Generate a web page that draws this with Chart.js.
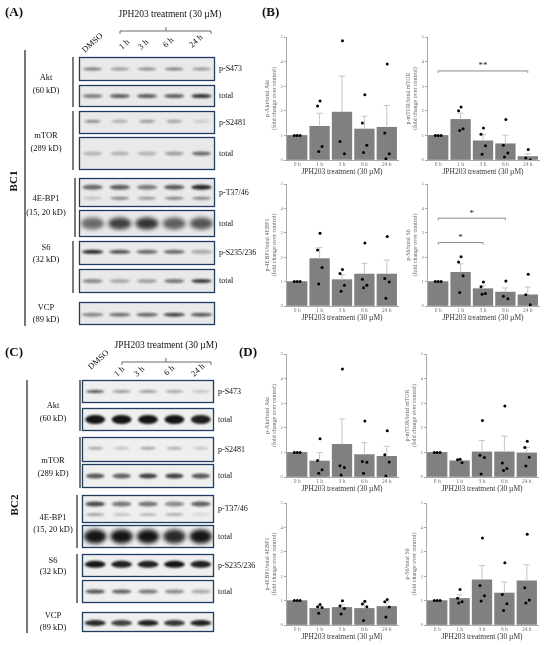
<!DOCTYPE html>
<html><head><meta charset="utf-8">
<script src="https://cdn.jsdelivr.net/npm/chart.js@4.4.1/dist/chart.umd.min.js"></script>
<style>
html,body{margin:0;padding:0;background:#fff;}
#root{position:relative;width:550px;height:645px;overflow:hidden;font-family:"Liberation Serif","Times New Roman",serif;}
.t{position:absolute;white-space:nowrap;color:#111;line-height:1;}
.cw{position:absolute;}
</style></head><body><div id="root"><canvas id="blots" width="550" height="645" style="position:absolute;left:0;top:0"></canvas></div>
<script>
// ---------- DATA ----------
const timeLabels = ['0 h', '1 h', '3 h', '6 h', '24 h'];
const xTitle = 'JPH203 treatment (30 µM)';
const laneLabels = ['DMSO', '1 h', '3 h', '6 h', '24 h'];

// BC1 (panel B)
const bc1AktMean = [1.0, 1.37, 1.95, 1.26, 1.33];
const bc1AktTop  = [1.0, 1.90, 3.41, 1.78, 2.22];
const bc1AktPts  = [[1.0, 1.0, 1.0], [2.4, 2.2, 0.55, 0.35], [4.85, 0.75, 0.25], [2.65, 1.5, 0.6, 0.3], [3.9, 1.1, 0.25, 0.05]];

const bc1MtorMean = [1.0, 1.65, 0.78, 0.66, 0.14];
const bc1MtorTop  = [1.0, 1.90, 1.03, 1.01, 0.25];
const bc1MtorPts  = [[1.0, 1.0, 1.0], [2.15, 2.0, 1.27, 1.2], [1.3, 1.05, 0.58, 0.23], [1.65, 0.6, 0.28, 0.12], [0.43, 0.08, 0.0]];
const bc1MtorSig  = [{from: 0, to: 4, y: 3.62, label: '**'}];

const bc1EbpMean = [1.0, 1.94, 1.08, 1.31, 1.31];
const bc1EbpTop  = [1.0, 2.39, 1.28, 1.75, 1.88];
const bc1EbpPts  = [[1.0, 1.0, 1.0], [2.98, 2.3, 1.58, 0.9], [1.5, 1.33, 0.85, 0.6], [2.58, 1.1, 0.85, 0.75], [2.85, 1.13, 0.98, 0.32]];

const bc1S6Mean = [1.0, 1.38, 0.71, 0.57, 0.46];
const bc1S6Top  = [1.0, 1.73, 0.82, 0.74, 0.78];
const bc1S6Pts  = [[1.0, 1.0, 1.0], [2.02, 1.8, 1.24, 0.55], [0.98, 0.79, 0.51, 0.48], [1.02, 0.4, 0.3], [1.3, 0.46, 0.05]];
const bc1S6Sig  = [{from: 0, to: 3, y: 3.6, label: '*'}, {from: 0, to: 2, y: 2.6, label: '*'}];

// BC2 (panel D)
const bc2AktMean = [1.0, 0.65, 1.33, 0.91, 0.84];
const bc2AktTop  = [1.0, 0.99, 2.36, 1.39, 1.25];
const bc2AktPts  = [[1.0, 1.0, 1.0], [1.55, 0.67, 0.29, 0.15], [4.39, 0.46, 0.39, 0.08], [2.28, 0.63, 0.6, 0.15], [1.88, 0.9, 0.61, 0.04]];

const bc2MtorMean = [1.0, 0.66, 1.02, 1.02, 0.98];
const bc2MtorTop  = [1.0, 0.72, 1.48, 1.66, 1.21];
const bc2MtorPts  = [[1.0, 1.0, 1.0], [0.72, 0.7, 0.58], [2.3, 0.88, 0.79, 0.12], [2.89, 0.57, 0.35, 0.26], [1.45, 1.2, 0.8, 0.45]];

const bc2EbpMean = [1.0, 0.68, 0.72, 0.68, 0.76];
const bc2EbpTop  = [1.0, 0.76, 0.83, 0.91, 0.94];
const bc2EbpPts  = [[1.0, 1.0, 1.0], [0.84, 0.75, 0.72, 0.48], [0.99, 0.78, 0.68, 0.45], [0.97, 0.86, 0.75, 0.18], [1.05, 0.95, 0.74, 0.33]];

const bc2S6Mean = [1.0, 1.09, 1.85, 1.31, 1.81];
const bc2S6Top  = [1.0, 1.24, 2.44, 1.76, 2.47];
const bc2S6Pts  = [[1.0, 1.0, 1.0], [1.46, 1.1, 0.95, 0.9], [3.57, 1.62, 1.2, 0.98], [2.55, 1.25, 0.87, 0.59], [3.72, 1.53, 1.02, 0.9]];

// Blot band intensities (per lane)
const bc1Blots = {
  aktP: [0.55, 0.4, 0.45, 0.5, 0.4], aktT: [0.5, 0.65, 0.65, 0.65, 0.85],
  mtorP: [0.45, 0.3, 0.4, 0.35, 0.15], mtorT: [0.25, 0.25, 0.25, 0.35, 0.6],
  ebpPu: [0.6, 0.65, 0.5, 0.65, 0.9], ebpPl: [0.2, 0.5, 0.4, 0.5, 0.5], ebpT: [0.6, 0.8, 0.85, 0.65, 0.7],
  s6P: [0.9, 0.7, 0.6, 0.6, 0.3], s6T: [0.45, 0.3, 0.35, 0.55, 0.8], vcp: [0.45, 0.55, 0.6, 0.75, 0.65]
};
const bc2Blots = {
  aktP: [0.75, 0.4, 0.4, 0.35, 0.2], aktT: [1, 1, 1, 1, 0.95],
  mtorP: [0.35, 0.2, 0.35, 0.3, 0.2], mtorT: [0.7, 0.65, 0.8, 0.8, 0.7],
  ebpPu: [0.75, 0.55, 0.55, 0.45, 0.65], ebpPl: [0.35, 0.2, 0.25, 0.3, 0.1], ebpT: [1, 1, 1, 0.9, 1],
  s6P: [1, 0.95, 0.95, 1, 0.95], s6T: [0.7, 0.65, 0.55, 0.45, 0.3], vcp: [0.9, 0.8, 0.95, 0.85, 0.95]
};

// ---------- STYLE / LAYOUT ----------
const FONT = '"Liberation Serif","Times New Roman",serif';
Chart.defaults.font.family = FONT;
const JIT0 = [-0.13, 0.0, 0.13, 0.06];
const JIT = [0.02, -0.09, 0.11, -0.04];
const root = document.getElementById('root');

function txt(s, x, y, o = {}) {
  const d = document.createElement('div');
  d.className = 't';
  d.textContent = s;
  d.style.left = x + 'px'; d.style.top = y + 'px';
  d.style.fontSize = (o.size || 8.5) + 'px';
  if (o.bold) d.style.fontWeight = 'bold';
  if (o.color) d.style.color = o.color;
  let tr = '';
  if (o.center) tr += 'translate(-50%,-50%) ';
  if (o.vcenter) tr += 'translate(0,-50%) ';
  if (o.rot) tr += 'rotate(' + o.rot + 'deg)';
  if (o.diag) { d.style.transformOrigin = '0 100%'; tr = 'translate(0,-100%) rotate(' + o.diag + 'deg)'; }
  d.style.transform = tr;
  root.appendChild(d);
}

function makeChart(left, top, plotW, plotH, yTitle, mean, tops, pts, sig) {
  const YW = 22, PT = 4, XH = 17, PR = 3;
  const w = document.createElement('div');
  w.className = 'cw';
  w.style.left = (left - YW) + 'px'; w.style.top = (top - PT) + 'px';
  w.style.width = (YW + plotW + PR) + 'px'; w.style.height = (PT + plotH + XH) + 'px';
  const c = document.createElement('canvas');
  w.appendChild(c); root.appendChild(w);
  const scatter = [];
  pts.forEach((arr, i) => arr.forEach((v, k) => {
    const j = i === 0 ? JIT0[k % JIT0.length] : JIT[k % JIT.length];
    scatter.push({x: i + j, y: v});
  }));
  const errPlugin = {
    id: 'err',
    afterDatasetDraw(chart, args) {
      if (args.meta.type !== 'bar') return;
      const ctx = chart.ctx, ys = chart.scales.y;
      ctx.save(); ctx.strokeStyle = '#c4c4c4'; ctx.lineWidth = 1;
      args.meta.data.forEach((bar, i) => {
        if (tops[i] <= mean[i]) return;
        const x = bar.x, y0 = ys.getPixelForValue(mean[i]), y1 = ys.getPixelForValue(tops[i]);
        ctx.beginPath(); ctx.moveTo(x, y0); ctx.lineTo(x, y1);
        ctx.moveTo(x - 3, y1); ctx.lineTo(x + 3, y1); ctx.stroke();
      });
      ctx.restore();
    }
  };
  const sigPlugin = {
    id: 'sig',
    afterDatasetsDraw(chart) {
      if (!sig) return;
      const ctx = chart.ctx, xs = chart.scales.x, ys = chart.scales.y;
      ctx.save();
      sig.forEach(s => {
        const x1 = xs.getPixelForValue(s.from), x2 = xs.getPixelForValue(s.to), y = ys.getPixelForValue(s.y);
        ctx.strokeStyle = '#8a8a8a'; ctx.lineWidth = 1;
        ctx.beginPath(); ctx.moveTo(x1, y + 2); ctx.lineTo(x1, y); ctx.lineTo(x2, y); ctx.lineTo(x2, y + 2); ctx.stroke();
        ctx.fillStyle = '#222'; ctx.font = '9px ' + FONT; ctx.textAlign = 'center'; ctx.textBaseline = 'middle';
        ctx.fillText(s.label, (x1 + x2) / 2, y - 5);
      });
      ctx.restore();
    }
  };
  return new Chart(c, {
    type: 'bar',
    data: {
      labels: timeLabels,
      datasets: [
        {type: 'bar', data: mean, backgroundColor: '#808080', borderWidth: 0, grouped: false,
         barThickness: plotW / 5 * 0.87, order: 2, xAxisID: 'x', yAxisID: 'y'},
        {type: 'scatter', data: scatter, xAxisID: 'xp', yAxisID: 'y', pointRadius: 1.5, pointBackgroundColor: '#000', pointBorderWidth: 0, order: 1}
      ]
    },
    options: {
      responsive: true, maintainAspectRatio: false, animation: false, events: [],
      layout: {padding: {top: PT, right: PR, left: 0, bottom: 0}},
      plugins: {legend: {display: false}, tooltip: {enabled: false}},
      scales: {
        x: {
          type: 'category', offset: true,
          grid: {display: false, drawTicks: false, tickLength: 0}, border: {display: true, color: '#a8a8a8', width: 1},
          ticks: {font: {size: 5.5}, color: '#777', padding: 1, maxRotation: 0, autoSkip: false},
          title: {display: true, text: xTitle, font: {size: 7.5}, color: '#333', padding: {top: 0, bottom: 0}},
          afterFit: s => { s.height = XH; }
        },
        xp: {type: 'linear', min: -0.5, max: 4.5, offset: false, grid: {offset: false}, display: false},
        y: {
          min: 0, max: 5,
          grid: {display: true, drawOnChartArea: false, drawTicks: true, tickLength: 2, color: '#a8a8a8'},
          border: {display: true, color: '#a8a8a8', width: 1},
          ticks: {stepSize: 1, font: {size: 5}, color: '#777', padding: 1},
          title: {display: true, text: yTitle, font: {size: 6}, color: '#666', padding: 0},
          afterFit: s => { s.width = YW; }
        }
      }
    },
    plugins: [errPlugin, sigPlugin]
  });
}

// ---------- BLOTS ----------
const bctx = document.getElementById('blots').getContext('2d');
function blot(x, y, w, h, bands, bg) {
  const ctx = bctx;
  ctx.save();
  ctx.fillStyle = bg; ctx.fillRect(x, y, w, h);
  ctx.beginPath(); ctx.rect(x, y, w, h); ctx.clip();
  bands.forEach(b => {
    b.v.forEach((a, i) => {
      const cx = x + w * (i + 0.5) / 5;
      const cy = y + h * b.y;
      ctx.filter = 'blur(' + b.blur + 'px)';
      ctx.fillStyle = 'rgba(20,20,20,' + a + ')';
      ctx.beginPath(); ctx.ellipse(cx, cy, w / 5 * b.w / 2, b.h / 2, 0, 0, Math.PI * 2); ctx.fill();
    });
  });
  ctx.restore();
  ctx.save();
  ctx.strokeStyle = '#1f3d63'; ctx.lineWidth = 1.3; ctx.strokeRect(x + 0.5, y + 0.5, w - 1, h - 1);
  ctx.restore();
}
function line(x1, y1, x2, y2, col, lw) {
  bctx.save(); bctx.strokeStyle = col; bctx.lineWidth = lw;
  bctx.beginPath(); bctx.moveTo(x1, y1); bctx.lineTo(x2, y2); bctx.stroke(); bctx.restore();
}
function bracket(x1, x2, y, cx) {
  bctx.save(); bctx.strokeStyle = '#444'; bctx.lineWidth = 0.8;
  bctx.beginPath(); bctx.moveTo(x1, y + 3); bctx.lineTo(x1, y); bctx.lineTo(x2, y); bctx.lineTo(x2, y + 3);
  bctx.moveTo(cx, y); bctx.lineTo(cx, y - 4); bctx.stroke(); bctx.restore();
}

function panel(B, bx, bw, rows, bg, strong) {
  const sb = (v, yy, hh, wf, bl) => ({v, y: yy, h: hh, w: wf, blur: bl});
  blot(bx, rows[0][0], bw, rows[0][1], [sb(B.aktP, 0.5, 3, 0.7, 1.2)], bg);
  blot(bx, rows[1][0], bw, rows[1][1], [sb(B.aktT, 0.5, strong ? 9 : 4, 0.75, 1.2)], bg);
  blot(bx, rows[2][0], bw, rows[2][1], [sb(B.mtorP, 0.45, 3, 0.6, 1.2)], bg);
  blot(bx, rows[3][0], bw, rows[3][1], [sb(B.mtorT, 0.5, strong ? 5 : 4, 0.7, 1.2)], bg);
  blot(bx, rows[4][0], bw, rows[4][1], [sb(B.ebpPu, 0.32, 5, 0.75, 1.2), sb(B.ebpPl, 0.7, 3, 0.7, 1.2)], bg);
  blot(bx, rows[5][0], bw, rows[5][1], [sb(B.ebpT, 0.5, strong ? 14 : 12, 0.85, 2.2)], bg);
  blot(bx, rows[6][0], bw, rows[6][1], [sb(B.s6P, 0.45, strong ? 7 : 4, 0.8, 1.2)], bg);
  blot(bx, rows[7][0], bw, rows[7][1], [sb(B.s6T, 0.5, 4, 0.75, 1.2)], bg);
  blot(bx, rows[8][0], bw, rows[8][1], [sb(B.vcp, 0.55, strong ? 6 : 4, 0.8, 1.2)], bg);
}

// Panel A (BC1)
const rowsA = [[57, 24], [85, 22], [111, 23], [137, 33], [178, 29], [210, 27], [241, 24], [269, 24], [302, 23]];
panel(bc1Blots, 79, 136, rowsA, '#e9e9e9', false);
// Panel C (BC2)
const rowsC = [[380, 23], [408, 23], [437, 25], [464, 24], [495, 28], [525, 23], [554, 23], [580, 23], [612, 20]];
panel(bc2Blots, 82, 132, rowsC, '#efefef', true);

// structural lines
line(25, 50, 25, 326, '#555', 1.6);
line(27, 380, 27, 633, '#555', 1.6);
line(73, 57, 73, 107, '#222', 1.2);
line(73, 111, 73, 170, '#222', 1.2);
line(75, 178, 75, 237, '#555', 1.6);
line(73, 241, 73, 293, '#222', 1.2);
line(80, 380, 80, 431, '#555', 1.6);
line(80, 437, 80, 488, '#222', 1.2);
line(77, 495, 77, 548, '#222', 1.2);
line(77, 554, 77, 603, '#222', 1.2);
bracket(120, 211, 31, 166);
bracket(122, 211, 362, 166);

// Panel labels
txt('(A)', 5, 5, {size: 13, bold: true});
txt('(B)', 262, 5, {size: 13, bold: true});
txt('(C)', 5, 345, {size: 13, bold: true});
txt('(D)', 239, 345, {size: 13, bold: true});
txt(xTitle, 170, 15, {size: 9.5, center: true});
txt(xTitle, 166, 346, {size: 9.5, center: true});
txt('BC1', 13, 181, {size: 11, bold: true, center: true, rot: -90});
txt('BC2', 14, 505, {size: 11, bold: true, center: true, rot: -90});

const anchA = [[86, 54], [123, 51], [142, 51], [167, 49], [193, 49]];
const anchC = [[92, 371], [118, 378], [138, 378], [168, 377], [195, 378]];
laneLabels.forEach((s, i) => {
  txt(s, anchA[i][0], anchA[i][1], {size: 8.5, diag: -42});
  txt(s, anchC[i][0], anchC[i][1], {size: 8.5, diag: -42});
});

// left protein labels
const protA = [['Akt', 77], ['(60 kD)', 90], ['mTOR', 135], ['(289 kD)', 148], ['4E-BP1', 198], ['(15, 20 kD)', 212], ['S6', 247], ['(32 kD)', 259], ['VCP', 307], ['(89 kD)', 319]];
protA.forEach(p => txt(p[0], 46, p[1], {size: 8.5, center: true}));
const protC = [['Akt', 405], ['(60 kD)', 418], ['mTOR', 460], ['(289 kD)', 473], ['4E-BP1', 517], ['(15, 20 kD)', 529], ['S6', 560], ['(32 kD)', 571], ['VCP', 615], ['(89 kD)', 627]];
protC.forEach(p => txt(p[0], 53, p[1], {size: 8.5, center: true}));

const sideNames = ['p-S473', 'total', 'p-S2481', 'total', 'p-T37/46', 'total', 'p-S235/236', 'total'];
sideNames.forEach((s, i) => {
  txt(s, 219, rowsA[i][0] + rowsA[i][1] / 2, {size: 8, vcenter: true});
  txt(s, 218, rowsC[i][0] + rowsC[i][1] / 2, {size: 8, vcenter: true});
});

// ---------- CHARTS ----------
makeChart(286, 37, 113, 123, ['p-Akt/total Akt', '(fold change over control)'], bc1AktMean, bc1AktTop, bc1AktPts, null);
makeChart(427, 37, 113, 123, ['p-mTOR/total mTOR', '(fold change over control)'], bc1MtorMean, bc1MtorTop, bc1MtorPts, bc1MtorSig);
makeChart(286, 184, 113, 122, ['p-4EBP1/total 4EBP1', '(fold change over control)'], bc1EbpMean, bc1EbpTop, bc1EbpPts, null);
makeChart(427, 184, 113, 122, ['p-S6/total S6', '(fold change over control)'], bc1S6Mean, bc1S6Top, bc1S6Pts, bc1S6Sig);
makeChart(286, 354, 113, 123, ['p-Akt/total Akt', '(fold change over control)'], bc2AktMean, bc2AktTop, bc2AktPts, null);
makeChart(426, 354, 113, 123, ['p-mTOR/total mTOR', '(fold change over control)'], bc2MtorMean, bc2MtorTop, bc2MtorPts, null);
makeChart(286, 503, 113, 122, ['p-4EBP1/total 4EBP1', '(fold change over control)'], bc2EbpMean, bc2EbpTop, bc2EbpPts, null);
makeChart(426, 503, 113, 122, ['p-S6/total S6', '(fold change over control)'], bc2S6Mean, bc2S6Top, bc2S6Pts, null);
</script></body></html>
